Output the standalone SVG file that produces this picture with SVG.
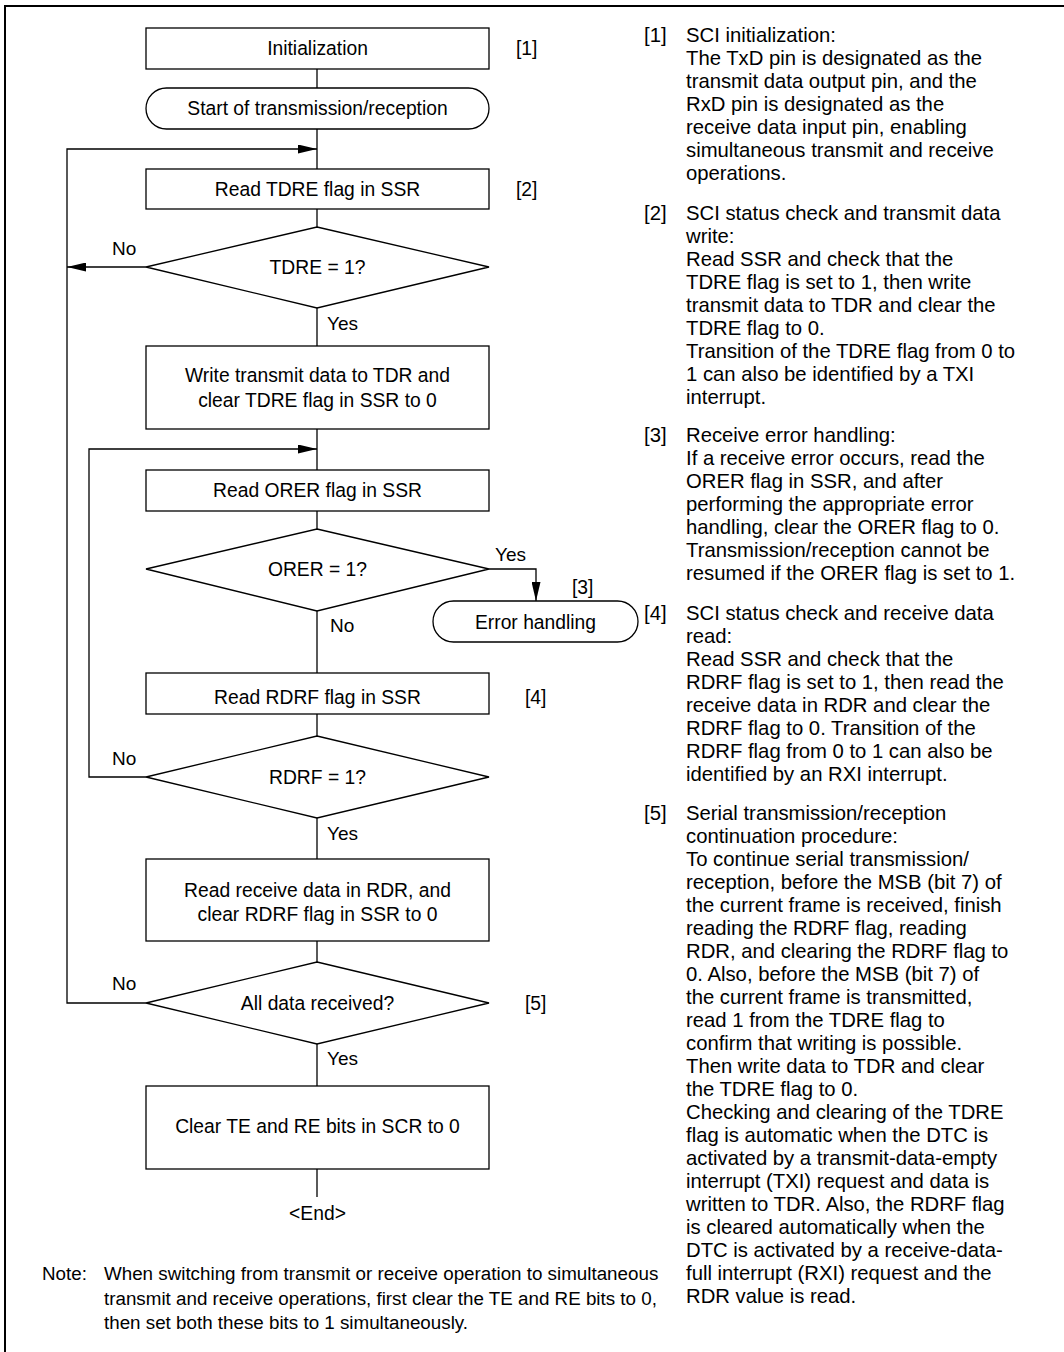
<svg xmlns="http://www.w3.org/2000/svg" width="1064" height="1352" viewBox="0 0 1064 1352">
<style>
text{font-family:"Liberation Sans",Arial,sans-serif;fill:#000}
.fc{font-size:19.3px}
.lbl{font-size:19px}
.rc{font-size:20.3px}
.nt{font-size:18.8px}
.shape{fill:#fff;stroke:#000;stroke-width:1.3}
.conn{fill:none;stroke:#000;stroke-width:1.3}
</style>
<defs>
<marker id="arr" markerUnits="userSpaceOnUse" markerWidth="19" markerHeight="9" refX="19" refY="4.5" orient="auto">
<path d="M0,0 L19,4.5 L0,9 Z" fill="#000"/>
</marker>
</defs>
<rect width="1064" height="1352" fill="#fff"/>
<path d="M5,1352 V6 H1064" fill="none" stroke="#000" stroke-width="2"/>

<g id="connectors">
<path class="conn" d="M317,69 V88"/>
<path class="conn" d="M317,129 V169"/>
<path class="conn" d="M317,209 V227"/>
<path class="conn" d="M317,308 V346"/>
<path class="conn" d="M317,429 V470"/>
<path class="conn" d="M317,511 V529"/>
<path class="conn" d="M317,611 V673"/>
<path class="conn" d="M317,714 V736"/>
<path class="conn" d="M317,818 V859"/>
<path class="conn" d="M317,941 V962"/>
<path class="conn" d="M317,1044 V1086"/>
<path class="conn" d="M317,1169 V1197"/>
<path class="conn" d="M146,1003 H67 V149 H317" marker-end="url(#arr)"/>
<path class="conn" d="M146,267 H67" marker-end="url(#arr)"/>
<path class="conn" d="M146,777 H89 V449 H317" marker-end="url(#arr)"/>
<path class="conn" d="M489,569 H536 V601" marker-end="url(#arr)"/>
</g>

<g id="n-init">
<rect class="shape" x="146" y="28" width="343" height="41"/>
<text class="fc" x="317.5" y="55" text-anchor="middle">Initialization</text>
<text class="fc" x="516" y="55">[1]</text>
</g>
<g id="n-start">
<rect class="shape" x="146" y="88" width="343" height="41" rx="20.5" ry="20.5"/>
<text class="fc" x="317.5" y="115" text-anchor="middle">Start of transmission/reception</text>
</g>
<g id="n-readtdre">
<rect class="shape" x="146" y="169" width="343" height="40"/>
<text class="fc" x="317.5" y="196" text-anchor="middle">Read TDRE flag in SSR</text>
<text class="fc" x="516" y="196">[2]</text>
</g>
<g id="n-tdre">
<polygon class="shape" points="317,227 489,267 317,308 146,267"/>
<text class="fc" x="317.5" y="274" text-anchor="middle">TDRE = 1?</text>
<text class="lbl" x="112" y="255">No</text>
<text class="lbl" x="327" y="330">Yes</text>
</g>
<g id="n-write">
<rect class="shape" x="146" y="346" width="343" height="83"/>
<text class="fc" x="317.5" y="382" text-anchor="middle">Write transmit data to TDR and</text>
<text class="fc" x="317.5" y="407" text-anchor="middle">clear TDRE flag in SSR to 0</text>
</g>
<g id="n-readorer">
<rect class="shape" x="146" y="470" width="343" height="41"/>
<text class="fc" x="317.5" y="497" text-anchor="middle">Read ORER flag in SSR</text>
</g>
<g id="n-orer">
<polygon class="shape" points="317,529 489,569 317,611 146,569"/>
<text class="fc" x="317.5" y="576" text-anchor="middle">ORER = 1?</text>
<text class="lbl" x="495" y="561">Yes</text>
<text class="lbl" x="330" y="632">No</text>
</g>
<g id="n-error">
<rect class="shape" x="433" y="601" width="205" height="41" rx="20.5" ry="20.5"/>
<text class="fc" x="535.5" y="629" text-anchor="middle">Error handling</text>
<text class="fc" x="572" y="594">[3]</text>
</g>
<g id="n-readrdrf">
<rect class="shape" x="146" y="673" width="343" height="41"/>
<text class="fc" x="317.5" y="704" text-anchor="middle">Read RDRF flag in SSR</text>
<text class="fc" x="525" y="704">[4]</text>
</g>
<g id="n-rdrf">
<polygon class="shape" points="317,736 489,777 317,818 146,777"/>
<text class="fc" x="317.5" y="784" text-anchor="middle">RDRF = 1?</text>
<text class="lbl" x="112" y="765">No</text>
<text class="lbl" x="327" y="840">Yes</text>
</g>
<g id="n-readrdr">
<rect class="shape" x="146" y="859" width="343" height="82"/>
<text class="fc" x="317.5" y="897" text-anchor="middle">Read receive data in RDR, and</text>
<text class="fc" x="317.5" y="921" text-anchor="middle">clear RDRF flag in SSR to 0</text>
</g>
<g id="n-alldata">
<polygon class="shape" points="317,962 489,1003 317,1044 146,1003"/>
<text class="fc" x="317.5" y="1010" text-anchor="middle">All data received?</text>
<text class="fc" x="525" y="1010">[5]</text>
<text class="lbl" x="112" y="990">No</text>
<text class="lbl" x="327" y="1065">Yes</text>
</g>
<g id="n-clear">
<rect class="shape" x="146" y="1086" width="343" height="83"/>
<text class="fc" x="317.5" y="1133" text-anchor="middle">Clear TE and RE bits in SCR to 0</text>
</g>
<g id="n-end">
<text class="fc" x="317.5" y="1220" text-anchor="middle">&lt;End&gt;</text>
</g>

<g id="notes-right">
<text class="rc" x="644" y="42">[1]</text>
<text class="rc">
<tspan x="686" y="42">SCI initialization:</tspan>
<tspan x="686" y="65">The TxD pin is designated as the</tspan>
<tspan x="686" y="88">transmit data output pin, and the</tspan>
<tspan x="686" y="111">RxD pin is designated as the</tspan>
<tspan x="686" y="134">receive data input pin, enabling</tspan>
<tspan x="686" y="157">simultaneous transmit and receive</tspan>
<tspan x="686" y="180">operations.</tspan>
</text>
<text class="rc" x="644" y="220">[2]</text>
<text class="rc">
<tspan x="686" y="220">SCI status check and transmit data</tspan>
<tspan x="686" y="243">write:</tspan>
<tspan x="686" y="266">Read SSR and check that the</tspan>
<tspan x="686" y="289">TDRE flag is set to 1, then write</tspan>
<tspan x="686" y="312">transmit data to TDR and clear the</tspan>
<tspan x="686" y="335">TDRE flag to 0.</tspan>
<tspan x="686" y="358">Transition of the TDRE flag from 0 to</tspan>
<tspan x="686" y="381">1 can also be identified by a TXI</tspan>
<tspan x="686" y="404">interrupt.</tspan>
</text>
<text class="rc" x="644" y="442">[3]</text>
<text class="rc">
<tspan x="686" y="442">Receive error handling:</tspan>
<tspan x="686" y="465">If a receive error occurs, read the</tspan>
<tspan x="686" y="488">ORER flag in SSR, and after</tspan>
<tspan x="686" y="511">performing the appropriate error</tspan>
<tspan x="686" y="534">handling, clear the ORER flag to 0.</tspan>
<tspan x="686" y="557">Transmission/reception cannot be</tspan>
<tspan x="686" y="580">resumed if the ORER flag is set to 1.</tspan>
</text>
<text class="rc" x="644" y="620">[4]</text>
<text class="rc">
<tspan x="686" y="620">SCI status check and receive data</tspan>
<tspan x="686" y="643">read:</tspan>
<tspan x="686" y="666">Read SSR and check that the</tspan>
<tspan x="686" y="689">RDRF flag is set to 1, then read the</tspan>
<tspan x="686" y="712">receive data in RDR and clear the</tspan>
<tspan x="686" y="735">RDRF flag to 0. Transition of the</tspan>
<tspan x="686" y="758">RDRF flag from 0 to 1 can also be</tspan>
<tspan x="686" y="781">identified by an RXI interrupt.</tspan>
</text>
<text class="rc" x="644" y="820">[5]</text>
<text class="rc">
<tspan x="686" y="820">Serial transmission/reception</tspan>
<tspan x="686" y="843">continuation procedure:</tspan>
<tspan x="686" y="866">To continue serial transmission/</tspan>
<tspan x="686" y="889">reception, before the MSB (bit 7) of</tspan>
<tspan x="686" y="912">the current frame is received, finish</tspan>
<tspan x="686" y="935">reading the RDRF flag, reading</tspan>
<tspan x="686" y="958">RDR, and clearing the RDRF flag to</tspan>
<tspan x="686" y="981">0. Also, before the MSB (bit 7) of</tspan>
<tspan x="686" y="1004">the current frame is transmitted,</tspan>
<tspan x="686" y="1027">read 1 from the TDRE flag to</tspan>
<tspan x="686" y="1050">confirm that writing is possible.</tspan>
<tspan x="686" y="1073">Then write data to TDR and clear</tspan>
<tspan x="686" y="1096">the TDRE flag to 0.</tspan>
<tspan x="686" y="1119">Checking and clearing of the TDRE</tspan>
<tspan x="686" y="1142">flag is automatic when the DTC is</tspan>
<tspan x="686" y="1165">activated by a transmit-data-empty</tspan>
<tspan x="686" y="1188">interrupt (TXI) request and data is</tspan>
<tspan x="686" y="1211">written to TDR. Also, the RDRF flag</tspan>
<tspan x="686" y="1234">is cleared automatically when the</tspan>
<tspan x="686" y="1257">DTC is activated by a receive-data-</tspan>
<tspan x="686" y="1280">full interrupt (RXI) request and the</tspan>
<tspan x="686" y="1303">RDR value is read.</tspan>
</text>
</g>

<g id="note">
<text class="nt" x="42" y="1280">Note:</text>
<text class="nt">
<tspan x="104" y="1280">When switching from transmit or receive operation to simultaneous</tspan>
<tspan x="104" y="1305">transmit and receive operations, first clear the TE and RE bits to 0,</tspan>
<tspan x="104" y="1329">then set both these bits to 1 simultaneously.</tspan>
</text>
</g>
</svg>
